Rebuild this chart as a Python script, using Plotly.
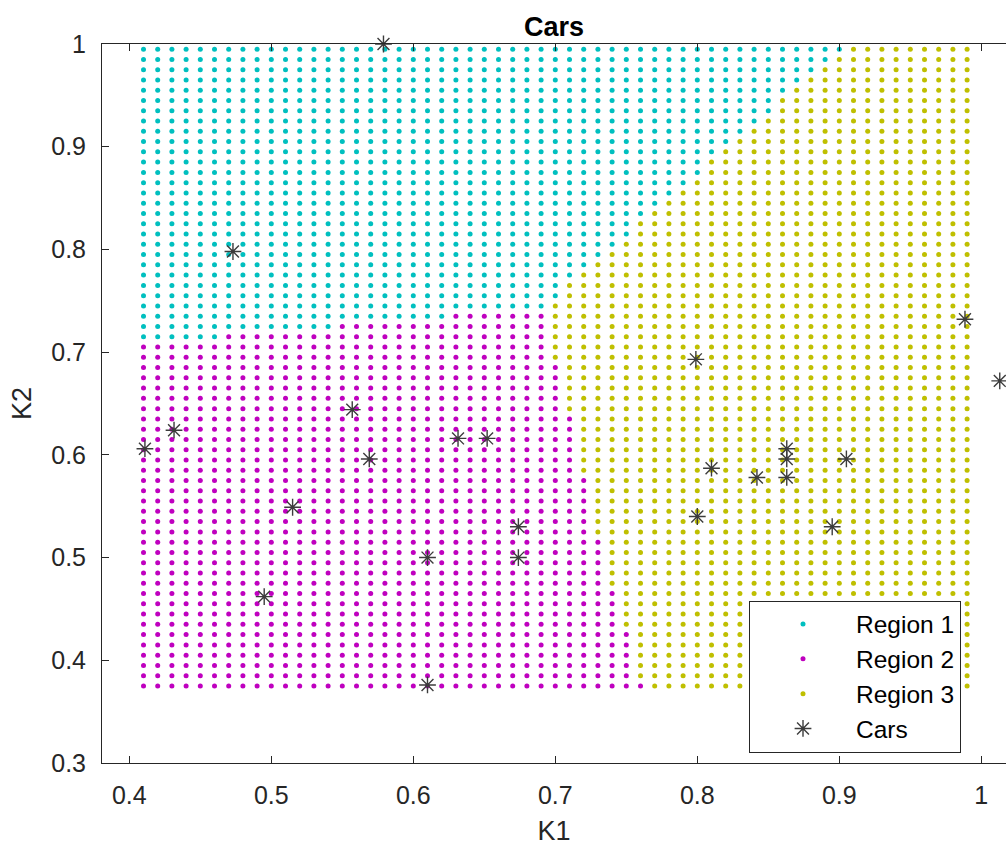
import numpy as np
import plotly.graph_objects as go

# ---------------- data ----------------
# classification grid (K1 columns, K2 rows)
k1_start, k1_step, k1_count = 0.41, 0.01, 59
k2_start, k2_step, k2_count = 0.375, 0.01, 63

# per K1 column: lowest K2 value that belongs to Region 1 (None = no Region 1 dots)
region1_lower = ([0.715] * 6 + [0.725] * 8 + [0.735] * 8 + [0.745] * 7 +
                 [0.755, 0.775, 0.785, 0.795, 0.805, 0.815, 0.835, 0.845, 0.855,
                  0.865, 0.875, 0.895, 0.905, 0.915, 0.925, 0.935, 0.955, 0.965,
                  0.975, 0.985, 0.995] +
                 [None] * 9)
# per K1 column: highest K2 value that belongs to Region 2 (None = no Region 2 dots)
region2_upper = ([0.705] * 6 + [0.715] * 8 + [0.725] * 8 + [0.735] * 7 +
                 [0.685, 0.635, 0.575, 0.515, 0.465, 0.425, 0.375] +
                 [None] * 23)

# cars
cars_k1 = [0.579, 0.473, 0.411, 0.4315, 0.495, 0.515, 0.557, 0.569, 0.610, 0.610,
           0.6315, 0.652, 0.674, 0.674, 0.799, 0.800, 0.810, 0.842, 0.863, 0.863,
           0.863, 0.895, 0.905, 0.9885, 1.013]
cars_k2 = [1.000, 0.798, 0.606, 0.624, 0.462, 0.549, 0.644, 0.596, 0.500, 0.376,
           0.616, 0.616, 0.530, 0.500, 0.693, 0.540, 0.587, 0.578, 0.578, 0.596,
           0.606, 0.530, 0.596, 0.732, 0.672]

x_tickvals = [0.4, 0.5, 0.6, 0.7, 0.8, 0.9, 1.0]
x_ticktext = ["0.4", "0.5", "0.6", "0.7", "0.8", "0.9", "1"]
y_tickvals = [0.3, 0.4, 0.5, 0.6, 0.7, 0.8, 0.9, 1.0]
y_ticktext = ["0.3", "0.4", "0.5", "0.6", "0.7", "0.8", "0.9", "1"]

# ---------------- build regions ----------------
k1_grid = np.round(k1_start + k1_step * np.arange(k1_count), 4)
k2_grid = np.round(k2_start + k2_step * np.arange(k2_count), 4)

regions = {1: ([], []), 2: ([], []), 3: ([], [])}
for j, xv in enumerate(k1_grid):
    lo = region1_lower[j]
    hi = region2_upper[j]
    for yv in k2_grid:
        if lo is not None and yv >= lo - 1e-9:
            r = 1
        elif hi is not None and yv <= hi + 1e-9:
            r = 2
        else:
            r = 3
        regions[r][0].append(xv)
        regions[r][1].append(yv)

colors = {1: "#00BFBF", 2: "#BF00BF", 3: "#BFBF00"}

fig = go.Figure()
for r in (1, 2, 3):
    fig.add_trace(go.Scatter(
        x=regions[r][0], y=regions[r][1], mode="markers",
        name=f"Region {r}",
        marker=dict(color=colors[r], size=5, line=dict(width=0)),
        hoverinfo="skip",
    ))

fig.add_trace(go.Scatter(
    x=cars_k1, y=cars_k2, mode="markers", name="Cars",
    marker=dict(symbol="asterisk-open", size=14, color="#3c3c3c",
                line=dict(width=1.4, color="#3c3c3c")),
    cliponaxis=False,
))

FONT = "Liberation Sans, Arial, Helvetica, sans-serif"
AX = "#262626"

L, T = 102, 44
W, H = 1006, 850
B = H - 763
plot_w = W - L
plot_h = H - T - B
xmin = 0.4 - (129.3 - L) / 1420.0
xmax = xmin + plot_w / 1420.0

fig.update_layout(
    width=W, height=H,
    margin=dict(l=L, r=0, t=T, b=B, pad=0, autoexpand=False),
    paper_bgcolor="white", plot_bgcolor="white",
    font=dict(family=FONT, size=25, color=AX),
    title=dict(text="<b>Cars</b>", x=(L + plot_w / 2) / W, xanchor="center",
               y=1 - 27 / H, yanchor="middle", yref="container",
               font=dict(family=FONT, size=27, color="black")),
    showlegend=True,
    legend=dict(
        x=(749 - L) / plot_w, y=(763 - 600.5) / plot_h,
        xanchor="left", yanchor="top",
        bgcolor="white", bordercolor=AX, borderwidth=1,
        font=dict(family=FONT, size=24.5, color="black"),
        itemwidth=96, tracegroupgap=0,
    ),
    xaxis=dict(
        range=[xmin, xmax], tickvals=x_tickvals, ticktext=x_ticktext,
        ticks="inside", ticklen=7, tickcolor=AX, tickwidth=1,
        showline=True, linecolor=AX, linewidth=1, mirror="ticks",
        showgrid=False, zeroline=False, automargin=False,
        ticklabelstandoff=10,
        title=dict(text="K1", standoff=13, font=dict(family=FONT, size=27, color=AX)),
    ),
    yaxis=dict(
        range=[0.3, 1.0], tickvals=y_tickvals, ticktext=y_ticktext,
        ticks="inside", ticklen=7, tickcolor=AX, tickwidth=1,
        showline=True, linecolor=AX, linewidth=1,
        showgrid=False, zeroline=False, automargin=False,
        ticklabelstandoff=10,
        title=dict(text="K2", standoff=11, font=dict(family=FONT, size=27, color=AX)),
    ),
)

fig.write_html(
    "out.html",
    config={"displayModeBar": False},
    post_script="document.body.style.margin='0';document.body.style.overflow='hidden';",
)
